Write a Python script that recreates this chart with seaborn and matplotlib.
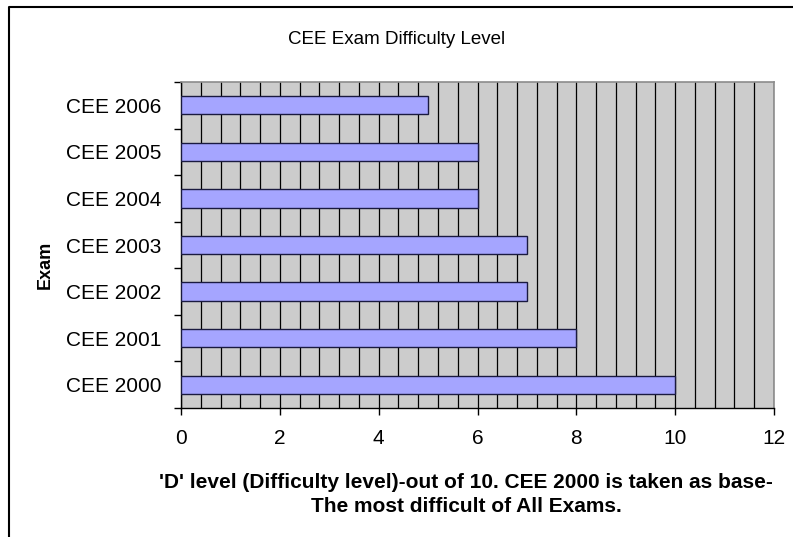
import numpy as np
import pandas as pd
import seaborn as sns
import matplotlib.pyplot as plt
from matplotlib.lines import Line2D

exams = ['CEE 2006', 'CEE 2005', 'CEE 2004', 'CEE 2003', 'CEE 2002', 'CEE 2001', 'CEE 2000']
d_level = [5, 6, 6, 7, 7, 8, 10]

df = pd.DataFrame({'exam': exams, 'level': d_level})

sns.set_style('white')
plt.rcParams['font.family'] = ['Liberation Sans', 'DejaVu Sans']
plt.rcParams['text.color'] = 'black'
plt.rcParams['xtick.color'] = 'black'
plt.rcParams['ytick.color'] = 'black'

fig = plt.figure(figsize=(7.93, 5.37), dpi=100)
ax = fig.add_axes([0.2283, 0.2402, 0.976 - 0.2283, 0.8473 - 0.2402])
ax.set_facecolor('#CCCCCC')

sns.barplot(data=df, x='level', y='exam', orient='h', color='#A5A5FF',
            saturation=1, width=0.39, edgecolor='#1A1A40', linewidth=1.0, ax=ax,
            zorder=3)

# excel style gridlines every 0.4
ax.set_xlim(0, 12)
ax.set_ylim(6.5, -0.5)
ax.set_xticks(np.arange(0, 13, 2))
ax.set_xticks(np.arange(0, 12.01, 0.4), minor=True)
ax.grid(True, which='both', axis='x', color='#000000', linewidth=0.9, zorder=1)
ax.grid(False, axis='y')
ax.set_axisbelow(True)

ax.set_yticks(range(len(exams)))
ax.set_yticklabels(exams)
ax.set_yticks(np.arange(-0.5, 7, 1), minor=True)
ax.tick_params(axis='y', which='major', length=0, pad=14, labelsize=15, labelcolor='black')
ax.tick_params(axis='y', which='minor', length=5, width=1, color='black', left=True)
ax.tick_params(axis='x', which='major', length=5, width=1, color='black', bottom=True,
               pad=10, labelsize=15, labelcolor='black')
ax.tick_params(axis='x', which='minor', length=0)

for side in ['left', 'bottom']:
    ax.spines[side].set_color('black')
    ax.spines[side].set_linewidth(1)
for side in ['top', 'right']:
    ax.spines[side].set_color('#8C8C8C')
    ax.spines[side].set_linewidth(1.2)

ax.set_ylabel('')
ax.set_xlabel('')

fig.text(0.5, 0.927, 'CEE Exam Difficulty Level', ha='center', va='center', fontsize=13.5)
fig.text(0.057, 0.507, 'Exam', rotation=90, ha='center', va='center',
         fontsize=13, fontweight='bold')
fig.text(0.588, 0.079, "'D' level (Difficulty level)-out of 10. CEE 2000 is taken as base-\nThe most difficult of All Exams.",
         ha='center', va='center', fontsize=15, fontweight='bold', linespacing=1.38)

# chart frame (left and top edges visible)
fig.add_artist(Line2D([0.0113, 0.0113, 1.0], [0.0, 0.987, 0.987],
                      transform=fig.transFigure, color='black', linewidth=1.5))

fig.savefig('out.png', dpi=100)
